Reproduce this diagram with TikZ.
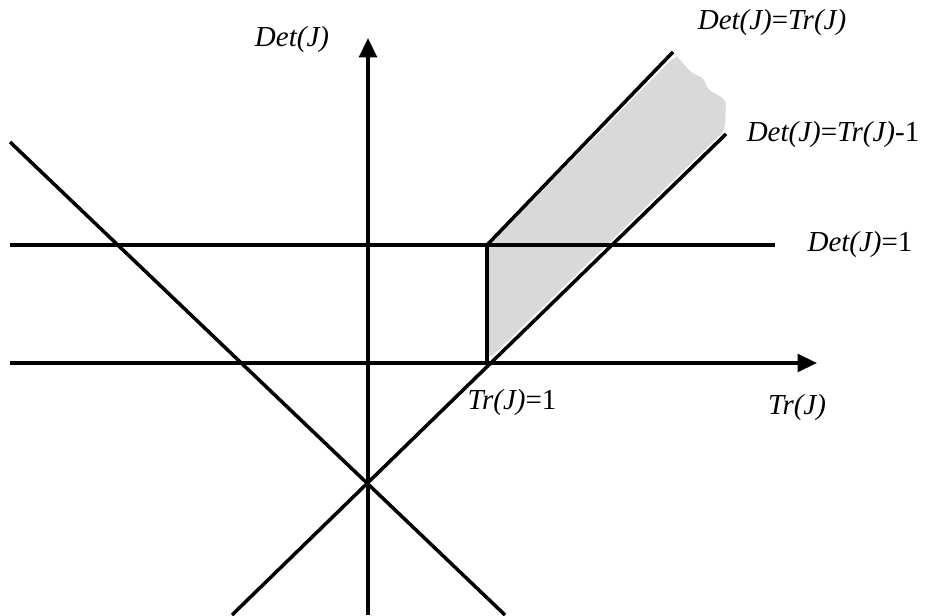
\documentclass[tikz,border=0pt]{standalone}
\usepackage{fontspec}
\setmainfont{Liberation Serif}
\usetikzlibrary{arrows.meta,calc,positioning}

\begin{document}
\begin{tikzpicture}[x=0.02cm,y=0.02cm,>={Triangle[length=11pt,width=10pt]}]
  \tikzset{
    curve/.style={line width=2pt},
    lbl/.style={font=\fontsize{16.5}{19}\selectfont, inner sep=0pt}
  }
  \useasboundingbox (0,0) rectangle (925,615);
  % key points
  \coordinate (xl) at (10,252);
  \coordinate (xr) at (817,252);
  \coordinate (yb) at (368,0);
  \coordinate (yt) at (368,577);
  \coordinate (one) at (487,252);
  \coordinate (corner) at (487,370);
  \coordinate (hl) at (10,370);
  \coordinate (hr) at (775,370);
  \coordinate (eqtop) at (673,563);
  \coordinate (mbot) at (232,0);
  \coordinate (mtop) at (726,481);
  \coordinate (dtop) at (10,473);
  \coordinate (dbot) at (505,0);
  % shaded region
  \fill[gray!30, rounded corners=3pt] (489,370) -- (489,256) -- (720,480) -- (725,486)
    -- (726,515) -- (716,521) -- (707,526) -- (704,537) -- (693,541) -- (686,548)
    -- (678,558) -- (675,559) -- cycle;
  % lines
  \draw[curve] (dtop) -- (dbot);
  \draw[curve] (mbot) -- (mtop);
  \draw[curve] (corner) -- (eqtop);
  \draw[curve] (hl) -- (hr);
  \draw[curve] (corner) -- (one);
  \draw[curve,->] (xl) -- (xr);
  \draw[curve,->] (yb) -- (yt);
  % labels
  \node[lbl] (ylab) at (292,575) {\textit{Det(J)}};
  \node[lbl] (eqlab) at (772,592) {\textit{Det(J)}=\textit{Tr(J)}};
  \node[lbl] (mlab) at (833,480) {\textit{Det(J)}=\textit{Tr(J)}-1};
  \node[lbl] (hlab) at (860,370) {\textit{Det(J)}=1};
  \node[lbl] (onelab) at (512,212) {\textit{Tr(J)}=1};
  \node[lbl] (xlab) at (797,207) {\textit{Tr(J)}};
\end{tikzpicture}
\end{document}
